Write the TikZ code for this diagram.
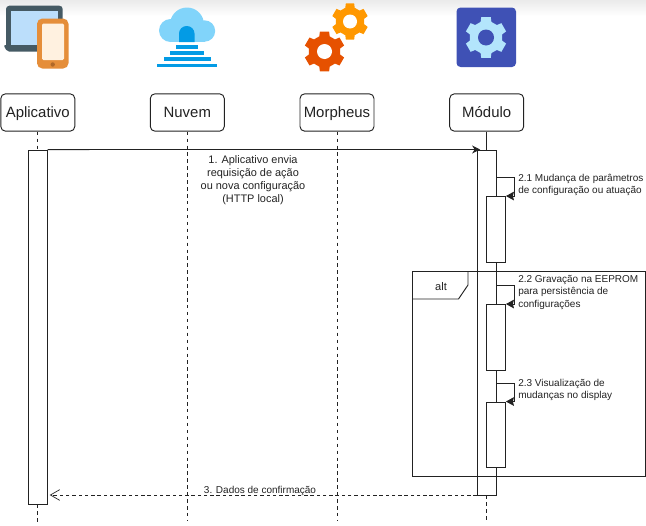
\documentclass[tikz,border=0pt]{standalone}
\usepackage{fontspec}
\setmainfont{Liberation Sans}
\usetikzlibrary{arrows.meta}
\definecolor{txt}{HTML}{222222}
\definecolor{ln}{HTML}{222222}
\definecolor{lapdark}{HTML}{455A64}
\definecolor{lapscreen}{HTML}{BBDEFB}
\definecolor{phone}{HTML}{E58E3A}
\definecolor{phonescr}{HTML}{FFF1E0}
\definecolor{phonebtn}{HTML}{B06828}
\definecolor{cloudc}{HTML}{81D4FA}
\definecolor{doorc}{HTML}{039BE5}
\definecolor{gearo}{HTML}{FF9800}
\definecolor{gearr}{HTML}{E65100}
\definecolor{modbg}{HTML}{3F51B5}
\definecolor{modfg}{HTML}{B3E5FC}
\tikzset{
  actor/.style={draw=ln,fill=white,rounded corners=3.5pt,line width=0.7pt,minimum width=55.5pt,minimum height=28pt,inner sep=0pt,text=txt,text height=10.2pt,text depth=2pt,font=\fontsize{11.2pt}{13pt}\selectfont},
  act/.style={draw=ln,fill=white,line width=0.7pt,minimum width=14.2pt,inner sep=0pt},
  lifeline/.style={draw=ln,line width=0.7pt,dash pattern=on 2.6pt off 2.6pt},
  solidline/.style={draw=ln,line width=0.7pt},
  selfmsg/.style={draw=ln,line width=0.7pt,-{Stealth[length=6pt,width=6.5pt,inset=0.8pt]}},
  reply/.style={draw=ln,line width=0.7pt,dash pattern=on 2.6pt off 2.1pt,shorten >=1.5pt,-{Straight Barb[length=7pt,width=8pt,line width=0.5pt]}},
  msg/.style={text=txt,font=\fontsize{7.5pt}{9.3pt}\selectfont,inner sep=0pt,align=left},
  msgc/.style={text=txt,font=\fontsize{8.2pt}{9.8pt}\selectfont,inner sep=0pt,align=center},
  frame/.style={draw=ln,line width=0.7pt},
}
\newcommand{\gearicon}[5]{% cx cy Router Rroot colour
  \fill[#5,line join=round,shift={(#1,#2)}]
    (77:#3)
    \foreach \a in {90,150,210,270,330,30}{
      -- (\a-13:#3) -- (\a+13:#3) -- (\a+19:#4) -- (\a+41:#4)
    } -- cycle;
}
\begin{document}
\begin{tikzpicture}[x=0.75pt,y=-0.75pt]
\useasboundingbox (0,0) rectangle (646,525);
\fill[top color=black!8,bottom color=white,draw=none] (0,0) rectangle (646,16);

% icon: laptop and phone
\fill[lapdark,rounded corners=2.5pt] (6,5.7) rectangle (62.7,50);
\fill[lapscreen] (11,11) rectangle (58,46);
\fill[lapdark,rounded corners=1.5pt] (3.5,45) -- (42,45) -- (42,51.5) -- (7,51.5) -- cycle;
\fill[phone,rounded corners=4pt] (37,18.5) rectangle (68.5,68.5);
\fill[phonescr,rounded corners=1pt] (42,23.5) rectangle (64,60);
\fill[phonebtn] (52.7,64.5) circle[radius=2.2];

% icon: cloud
\fill[cloudc] (187,24.5) circle[radius=17];
\fill[cloudc] (170.5,30.5) circle[radius=11.5];
\fill[cloudc] (204.5,31) circle[radius=10.7];
\fill[cloudc] (170,27) rectangle (205,42);
\fill[doorc] (179,42) -- (179,33.5) arc[start angle=180,end angle=360,x radius=7.75,y radius=7.5] -- (194.5,42) -- cycle;
\fill[doorc] (176,45) rectangle (198,48.5);
\fill[doorc] (169.5,51) rectangle (204,54.5);
\fill[doorc] (163.5,57) rectangle (210.5,60.5);
\fill[doorc] (157,63.5) rectangle (217,67);

% icon: gears
\gearicon{350}{21.5}{18.5}{14.5}{gearo}
\fill[white] (350,21.5) circle[radius=7];
\gearicon{324.5}{51.5}{20.5}{16}{gearr}
\fill[white] (324.5,51.5) circle[radius=7.5];
\fill[modbg,rounded corners=3pt] (456.5,7.5) rectangle (516,67);
\gearicon{486}{37.5}{21}{16.5}{modfg}
\fill[modbg] (486,37.5) circle[radius=8];

% actors
\node[actor] (aplic) at (37.8,112.5) {Aplicativo};
\node[actor] (nuvem) at (187.3,112.5) {Nuvem};
\node[actor] (morph) at (337,112.5) {Morpheus};
\node[actor] (modul) at (486.7,112.5) {Módulo};

% free ends of the lifelines
\coordinate (aplicEnd) at (37.8,524);
\coordinate (nuvemEnd) at (187.3,521);
\coordinate (morphEnd) at (337,521);
\coordinate (modulEnd) at (486.7,523);

\draw[lifeline] (nuvem.south) -- (nuvemEnd);
\draw[lifeline] (morph.south) -- (morphEnd);

% activations
\node[act,minimum height=265.5pt] (aplicAct) at (37.8,327) {};
\node[act,minimum height=258.8pt] (modAct) at (486.7,322.5) {};
\draw[lifeline] (aplic.south) -- (aplicAct.north);
\draw[lifeline] (aplicAct.south) -- (aplicEnd);
\draw[solidline] (modul.south) -- (modAct.north);
\draw[lifeline] (modAct.south) -- (modulEnd);

\node[act,minimum height=49.2pt] (a1) at (496,229.3) {};
\node[act,minimum height=49.2pt] (a2) at (496,337.3) {};
\node[act,minimum height=49.2pt] (a3) at (496,434.8) {};

% message 1
\draw[solidline,shorten >=-2.5pt,-{Stealth[length=6pt,width=6pt]}] (aplicAct.north east) -- (modAct.north west);
\node[msgc,anchor=north] (m1) at (253,155.5) {1. Aplicativo envia\\requisição de ação\\ou nova configuração\\(HTTP local)};

% self messages
\coordinate (s1) at (modAct.east |- 0,177);
\coordinate (s2) at (modAct.east |- 0,285);
\coordinate (s3) at (modAct.east |- 0,383);
\draw[selfmsg] (s1) -- ++(18,0) |- (a1.north east);
\draw[selfmsg] (s2) -- ++(18,0) |- (a2.north east);
\draw[selfmsg] (s3) -- ++(18,0) |- (a3.north east);
\node[msg,anchor=north west] (t1) at (518,173.5) {2.1 Mudança de parâmetros\\de configuração ou atuação};
\node[msg,anchor=north west] (t2) at (518,275) {2.2 Gravação na EEPROM\\para persistência de\\configurações};
\node[msg,anchor=north west] (t3) at (518,379) {2.3 Visualização de\\mudanças no display};

% alt frame
\draw[frame] (412,271) rectangle (645,476);
\draw[frame] (468,271) -- (468,285) -- (458.5,299) -- (412,299);
\node[text=txt,font=\fontsize{8.3pt}{10pt}\selectfont,inner sep=0pt] (altl) at (441,287) {alt};

% reply
\coordinate (r) at (modAct.west |- 0,495);
\draw[reply] (r) -- (r -| aplicAct.east);
\node[msg,anchor=base] (m3) at (260,493) {3. Dados de confirmação};
\end{tikzpicture}
\end{document}
